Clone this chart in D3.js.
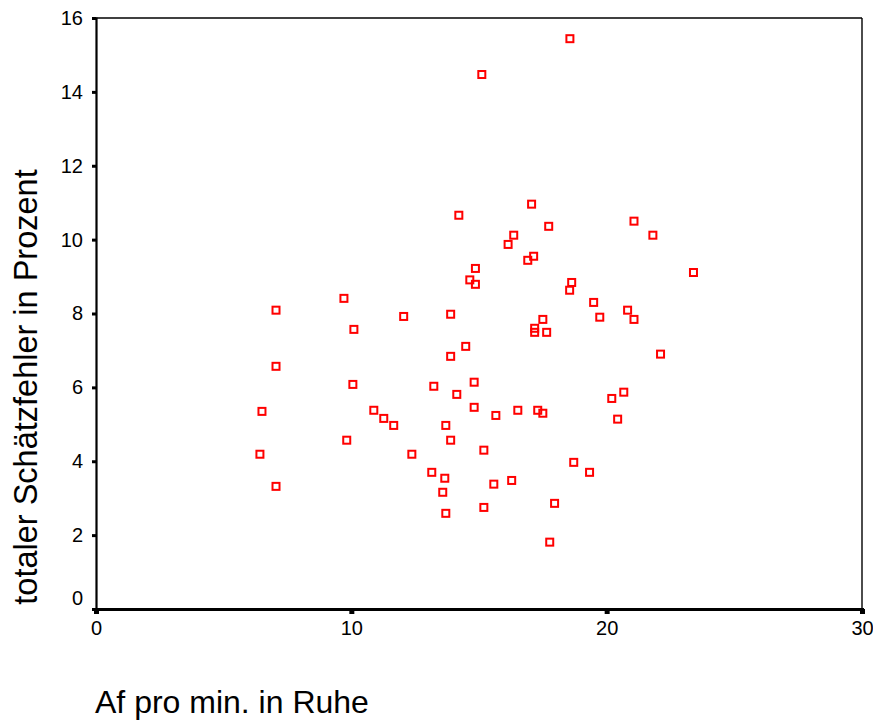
<!DOCTYPE html>
<html>
<head>
<meta charset="utf-8">
<script src="https://cdn.jsdelivr.net/npm/d3@7"></script>
<style>
  body { margin: 0; background: #fff; }
  text { font-family: Arial, "Liberation Sans", sans-serif; fill: #000; }
</style>
</head>
<body>
<div id="chart"></div>
<script>
// Af pro min. in Ruhe (x) and totaler Schätzfehler in Prozent (y)
let afValues = [14.21, 14.86, 14.64, 14.86, 9.71, 7.05, 10.10, 12.05, 13.89, 14.48,
                13.89, 7.05, 17.06, 17.73, 16.36, 16.14, 17.14, 16.91, 21.07, 21.81,
                23.40, 18.63, 18.55, 19.49, 19.73, 20.82, 21.07, 17.50, 17.18, 17.18,
                17.65, 22.11, 10.06, 13.23, 14.81, 14.13, 6.50, 10.88, 11.27, 11.66,
                14.81, 13.70, 13.89, 9.82, 6.42, 12.37, 13.15, 13.66, 13.58, 13.70,
                7.05, 15.66, 16.52, 17.30, 17.50, 20.20, 20.67, 20.43, 15.19, 15.58,
                16.28, 18.71, 19.33, 15.19, 17.96, 17.77, 15.11, 18.56];
let fehlerValues = [10.66, 9.22, 8.91, 8.79, 8.41, 8.09, 7.57, 7.92, 7.98, 7.11,
                    6.84, 6.57, 10.96, 10.36, 10.12, 9.87, 9.55, 9.44, 10.50, 10.12,
                    9.11, 8.84, 8.63, 8.30, 7.90, 8.09, 7.84, 7.84, 7.60, 7.49,
                    7.49, 6.90, 6.08, 6.03, 6.14, 5.81, 5.35, 5.38, 5.16, 4.97,
                    5.46, 4.97, 4.57, 4.57, 4.19, 4.19, 3.70, 3.54, 3.16, 2.59,
                    3.32, 5.24, 5.38, 5.38, 5.30, 5.70, 5.87, 5.14, 4.30, 3.38,
                    3.48, 3.97, 3.70, 2.75, 2.86, 1.81, 14.47, 15.44];
let xTicks = [0, 10, 20, 30];
let yTicks = [0, 2, 4, 6, 8, 10, 12, 14, 16];

let width = 873,
    height = 720;

let svg = d3.select("#chart")
    .append("svg")
    .attr("width", width)
    .attr("height", height);

let x = d3.scaleLinear().domain([0, 30]).range([96, 862]);
let y = d3.scaleLinear().domain([0, 16]).range([609, 18]);

// frame: thin top and right lines
svg.append("line")
    .attr("x1", x(0)).attr("x2", x(30))
    .attr("y1", y(16)).attr("y2", y(16))
    .attr("stroke", "#000").attr("stroke-width", 1.4);
svg.append("line")
    .attr("x1", x(30)).attr("x2", x(30))
    .attr("y1", y(16)).attr("y2", y(0))
    .attr("stroke", "#000").attr("stroke-width", 1.4);

// y axis
let yAxis = svg.append("g")
    .attr("transform", `translate(${x(0)},0)`)
    .call(d3.axisLeft(y).tickValues(yTicks).tickSize(4).tickPadding(9).tickFormat(d3.format("d")));
yAxis.select(".domain").attr("stroke-width", 2.2);
yAxis.selectAll(".tick line").attr("stroke-width", 3);
yAxis.selectAll(".tick text").style("font-size", "20px")
    .attr("dy", d => d === 0 ? "-0.25em" : "0.32em");

// x axis
let xAxis = svg.append("g")
    .attr("transform", `translate(0,${y(0)})`)
    .call(d3.axisBottom(x).tickValues(xTicks).tickSize(5).tickPadding(7).tickFormat(d3.format("d")));
xAxis.select(".domain").attr("stroke-width", 3);
xAxis.selectAll(".tick line").attr("stroke-width", 5);
xAxis.selectAll(".tick text").style("font-size", "20px");

// axis titles
svg.append("text")
    .attr("x", 95)
    .attr("y", 713)
    .style("font-size", "32px")
    .text("Af pro min. in Ruhe");

svg.append("text")
    .attr("transform", `translate(37, ${387}) rotate(-90)`)
    .style("text-anchor", "middle")
    .style("font-size", "32.5px")
    .text("totaler Schätzfehler in Prozent");

// points
let points = afValues.map((v, i) => ({ af: v, fehler: fehlerValues[i] }));
let s = 7;
svg.append("g").selectAll("rect")
    .data(points)
    .enter()
    .append("rect")
    .attr("x", d => x(d.af) - s / 2)
    .attr("y", d => y(d.fehler) - s / 2)
    .attr("width", s)
    .attr("height", s)
    .attr("fill", "none")
    .attr("stroke", "#ff0000")
    .attr("stroke-width", 2);
</script>
</body>
</html>
